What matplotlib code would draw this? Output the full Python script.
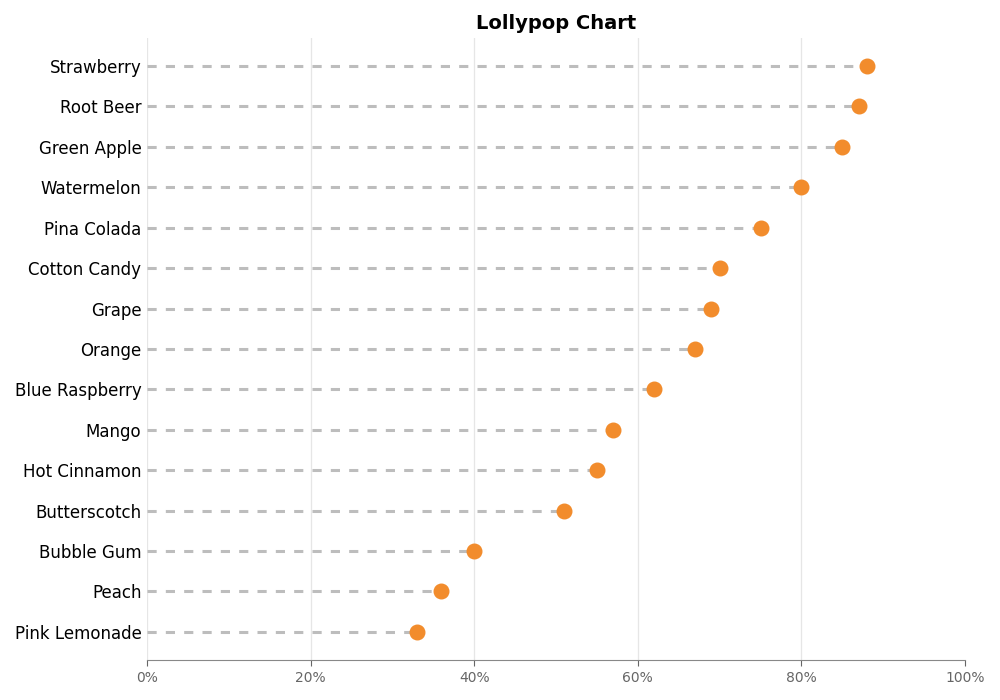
import numpy as np
import matplotlib.pyplot as plt
from matplotlib.ticker import PercentFormatter

# flavours, top to bottom as shown
flavors = ['Strawberry', 'Root Beer', 'Green Apple', 'Watermelon', 'Pina Colada',
           'Cotton Candy', 'Grape', 'Orange', 'Blue Raspberry', 'Mango',
           'Hot Cinnamon', 'Butterscotch', 'Bubble Gum', 'Peach', 'Pink Lemonade']
scores = [0.88, 0.87, 0.85, 0.80, 0.75,
          0.70, 0.69, 0.67, 0.62, 0.57,
          0.55, 0.51, 0.40, 0.36, 0.33]
x_ticks = [0, 0.2, 0.4, 0.6, 0.8, 1.0]

fig = plt.figure(figsize=(10, 7), dpi=100)
ax = fig.add_axes([0.147, 0.057, 0.818, 0.889])

# reverse so first flavour sits at the top
ypos = np.arange(len(flavors))[::-1]

ax.hlines(ypos, 0, scores, colors='#bdbdbd', linestyles=(0, (3, 3)), linewidth=2.2, zorder=2)
ax.scatter(scores, ypos, s=110, color='#f28c2c', zorder=3)

ax.set_yticks(ypos)
ax.set_yticklabels(flavors, fontsize=12)
ax.tick_params(axis='y', length=0, pad=4)

ax.set_xlim(0, 1.0)
ax.set_xticks(x_ticks)
ax.xaxis.set_major_formatter(PercentFormatter(1.0, decimals=0))
ax.tick_params(axis='x', colors='#666666', labelsize=10, length=4)

ax.grid(axis='x', color='#e6e6e6', linewidth=0.9, zorder=0)
ax.set_axisbelow(True)
# no grid line at the right edge
ax.xaxis.get_gridlines()[-1].set_visible(False)

for side in ['top', 'right', 'left']:
    ax.spines[side].set_visible(False)
ax.spines['bottom'].set_color('#888888')

ax.set_title('Lollypop Chart', fontsize=14, fontweight='bold', pad=6)

fig.savefig('out.png')
